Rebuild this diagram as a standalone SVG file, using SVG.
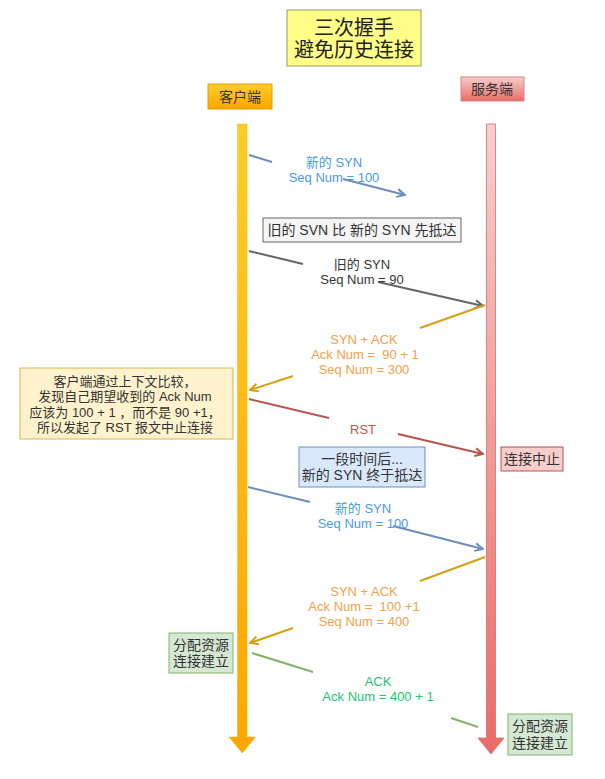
<svg xmlns="http://www.w3.org/2000/svg" width="605" height="779" viewBox="0 0 605 779">
<defs>
<linearGradient id="gClientBox" x1="0" y1="0" x2="0" y2="1"><stop offset="0" stop-color="#ffcd28"/><stop offset="1" stop-color="#ffa500"/></linearGradient>
<linearGradient id="gServerBox" x1="0" y1="0" x2="0" y2="1"><stop offset="0" stop-color="#f8cecc"/><stop offset="1" stop-color="#ea6b66"/></linearGradient>
<linearGradient id="gClientLine" x1="0" y1="0" x2="0" y2="1"><stop offset="0" stop-color="#ffcd28"/><stop offset="1" stop-color="#ffa500"/></linearGradient>
<linearGradient id="gServerLine" x1="0" y1="0" x2="0" y2="1"><stop offset="0" stop-color="#f8cecc"/><stop offset="1" stop-color="#ea6b66"/></linearGradient>
<marker id="mBlue" viewBox="0 0 10 10" refX="9" refY="5" markerWidth="10" markerHeight="10" markerUnits="userSpaceOnUse" orient="auto"><path d="M1,1 L9,5 L1,9" fill="none" stroke="#6c8ebf" stroke-width="2"/></marker>
<marker id="mGray" viewBox="0 0 10 10" refX="9" refY="5" markerWidth="10" markerHeight="10" markerUnits="userSpaceOnUse" orient="auto"><path d="M1,1 L9,5 L1,9" fill="none" stroke="#666666" stroke-width="2"/></marker>
<marker id="mOrange" viewBox="0 0 10 10" refX="9" refY="5" markerWidth="10" markerHeight="10" markerUnits="userSpaceOnUse" orient="auto"><path d="M1,1 L9,5 L1,9" fill="none" stroke="#d6a012" stroke-width="2"/></marker>
<marker id="mRed" viewBox="0 0 10 10" refX="9" refY="5" markerWidth="10" markerHeight="10" markerUnits="userSpaceOnUse" orient="auto"><path d="M1,1 L9,5 L1,9" fill="none" stroke="#b85450" stroke-width="2"/></marker>
</defs>
<style>
text{font-family:"Liberation Sans","Noto Sans CJK SC",sans-serif;text-anchor:middle;dominant-baseline:central;white-space:pre}
.t14{font-size:14px;fill:#333}
.t13{font-size:13px;fill:#333}
.lbl{font-size:13px}
.blue{fill:#4a9ae6}
.orange{fill:#f5a04a}
.red{fill:#e94a4a}
.green{fill:#22c472}
.dark{fill:#333}
.ln{fill:none;stroke-width:2}
</style>
<rect width="605" height="779" fill="#ffffff"/>

<g id="title">
<rect x="287" y="10" width="134" height="56" fill="#ffff88" stroke="#9a9a66" stroke-width="1"/>
<text x="354" y="28" style="font-size:20px;fill:#222">三次握手</text>
<text x="354" y="50" style="font-size:20px;fill:#222">避免历史连接</text>
</g>

<g id="client">
<rect x="208" y="84" width="64" height="25" fill="url(#gClientBox)" stroke="#e0a000" stroke-width="1"/>
<text x="240" y="97" class="t14">客户端</text>
<path d="M237.5,124 H247 V737 H255.5 L242.3,753 L229,737 H237.5 Z" fill="url(#gClientLine)" stroke="#f0b400" stroke-width="0.5"/>
</g>

<g id="server">
<rect x="461" y="77" width="63" height="24" fill="url(#gServerBox)" stroke="#d08a88" stroke-width="1"/>
<text x="492" y="89" class="t14">服务端</text>
<path d="M486.5,124 H495.5 V738 H504 L491,754 L478,738 H486.5 Z" fill="url(#gServerLine)" stroke="#d07070" stroke-width="0.8"/>
</g>

<g id="note-old-first">
<rect x="263" y="218" width="198" height="24" fill="#f5f5f5" stroke="#666666" stroke-width="1"/>
<text x="362" y="230" class="t14">旧的 SVN 比 新的 SYN 先抵达</text>
</g>

<g id="note-client-compare">
<rect x="20" y="368" width="213" height="71" fill="#fff2cc" stroke="#d6b656" stroke-width="1"/>
<text x="125" y="381" class="t13">客户端通过上下文比较，</text>
<text x="125" y="396" class="t13">发现自己期望收到的 Ack Num</text>
<text x="125" y="412" class="t13">应该为 100 + 1 ，而不是 90 +1，</text>
<text x="125" y="427" class="t13">所以发起了 RST 报文中止连接</text>
</g>

<g id="note-abort">
<rect x="501" y="447" width="62" height="24" fill="#f8cecc" stroke="#b85450" stroke-width="1"/>
<text x="532" y="459" class="t14">连接中止</text>
</g>

<g id="note-later">
<rect x="299" y="447" width="126" height="40" fill="#dae8fc" stroke="#6c8ebf" stroke-width="1"/>
<text x="362" y="459" class="t14">一段时间后...</text>
<text x="362" y="475" class="t14">新的 SYN 终于抵达</text>
</g>

<g id="client-established">
<rect x="169" y="633" width="64" height="40" fill="#d5e8d4" stroke="#82b366" stroke-width="1"/>
<text x="201" y="645" class="t14">分配资源</text>
<text x="201" y="661" class="t14">连接建立</text>
</g>

<g id="server-established">
<rect x="508" y="714" width="64" height="41" fill="#d5e8d4" stroke="#82b366" stroke-width="1"/>
<text x="540" y="726" class="t14">分配资源</text>
<text x="540" y="743" class="t14">连接建立</text>
</g>

<g id="connectors">
<path class="ln" stroke="#6c8ebf" d="M249,155 L272,162"/>
<path class="ln" stroke="#6c8ebf" d="M343,179 L405,195" marker-end="url(#mBlue)"/>
<text x="334" y="162" class="lbl blue">新的 SYN</text>
<text x="334" y="177" class="lbl blue">Seq Num = 100</text>

<path class="ln" stroke="#666666" d="M249,251 L303,264"/>
<path class="ln" stroke="#666666" d="M378,282 L483,306" marker-end="url(#mGray)"/>
<text x="362" y="264" class="lbl dark">旧的 SYN</text>
<text x="362" y="279" class="lbl dark">Seq Num = 90</text>

<path class="ln" stroke="#d6a012" d="M485,305 L420,328"/>
<path class="ln" stroke="#d6a012" d="M293,376 L250,390" marker-end="url(#mOrange)"/>
<text x="364" y="339" class="lbl orange">SYN + ACK</text>
<text x="365" y="354" class="lbl orange">Ack Num =  90 + 1</text>
<text x="364" y="369" class="lbl orange">Seq Num = 300</text>

<path class="ln" stroke="#b85450" d="M249,399 L329,418"/>
<path class="ln" stroke="#b85450" d="M398,434 L483,454" marker-end="url(#mRed)"/>
<text x="363" y="429" class="lbl red">RST</text>

<path class="ln" stroke="#6c8ebf" d="M248,487 L310,502"/>
<path class="ln" stroke="#6c8ebf" d="M393,526 L483,549" marker-end="url(#mBlue)"/>
<text x="363" y="508" class="lbl blue">新的 SYN</text>
<text x="363" y="523" class="lbl blue">Seq Num = 100</text>

<path class="ln" stroke="#d6a012" d="M485,557 L420,581"/>
<path class="ln" stroke="#d6a012" d="M293,628 L250,643" marker-end="url(#mOrange)"/>
<text x="364" y="591" class="lbl orange">SYN + ACK</text>
<text x="364" y="606" class="lbl orange">Ack Num =  100 +1</text>
<text x="364" y="621" class="lbl orange">Seq Num = 400</text>

<path class="ln" stroke="#82b366" d="M252,653 L313,672"/>
<path class="ln" stroke="#82b366" d="M451,718 L478,727"/>
<text x="378" y="681" class="lbl green">ACK</text>
<text x="378" y="696" class="lbl green">Ack Num = 400 + 1</text>
</g>
</svg>
